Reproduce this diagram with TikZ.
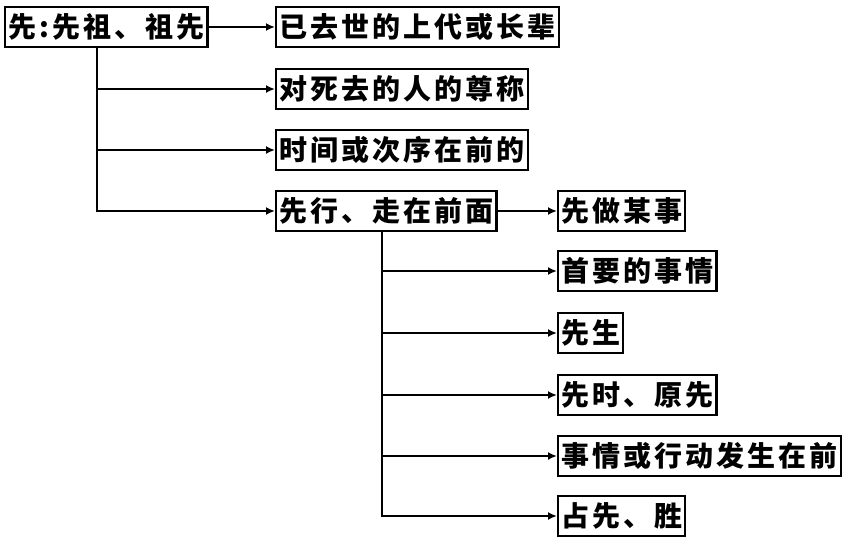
\documentclass[tikz,border=0pt]{standalone}
\usepackage{fontspec}
\setmainfont{Noto Sans CJK SC}[LetterSpace=11]
\usetikzlibrary{arrows.meta}
\begin{document}
\begin{tikzpicture}[x=1pt,y=-1pt,
  box/.style={draw,line width=2.2pt,anchor=west,inner sep=3pt,minimum height=40pt,
    font=\fontsize{28}{28}\bfseries},
  link/.style={line width=2.4pt,-{Latex[length=9pt,width=8pt]}}]
\useasboundingbox (0,0) rectangle (850,541);
\node[box] (root) at (4,27) {先:先祖、祖先};
\node[box] (a) at (275,27) {已去世的上代或长辈};
\node[box] (b) at (275,89) {对死去的人的尊称};
\node[box] (c) at (275,150) {时间或次序在前的};
\node[box] (d) at (275,211) {先行、走在前面};
\node[box] (e) at (557,211) {先做某事};
\node[box] (f) at (557,271) {首要的事情};
\node[box] (g) at (557,333) {先生};
\node[box] (h) at (557,395) {先时、原先};
\node[box] (i) at (557,456) {事情或行动发生在前};
\node[box] (j) at (557,516) {占先、胜};
\coordinate (trunk) at (97,0);
\coordinate (stem) at (382,0);
\draw[link] (root) -- (a);
\draw[link] (d) -- (e);
\draw[link] (root.south -| trunk) |- (d.west);
\foreach \t in {b,c}
	\draw[link] (trunk |- \t.west) -- (\t.west);
\draw[link] (d.south -| stem) |- (j.west);
\foreach \t in {f,g,h,i}
	\draw[link] (stem |- \t.west) -- (\t.west);
\end{tikzpicture}
\end{document}
